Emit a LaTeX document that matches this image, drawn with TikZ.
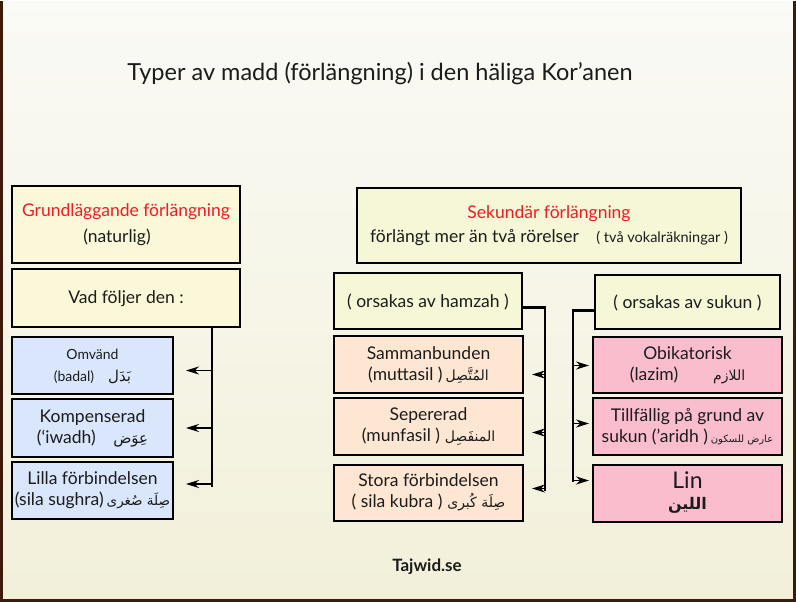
\documentclass[tikz,border=0pt]{standalone}
\usepackage{fontspec}
\setmainfont{Lato}
\newfontfamily\arabicfont[Script=Arabic]{DejaVu Sans}
\TeXXeTstate=1
\usetikzlibrary{arrows.meta}
\newcommand{\arabtxt}[1]{{\arabicfont\beginR #1\endR}}
\definecolor{pagetop}{HTML}{FAFAF6}
\definecolor{pagebot}{HTML}{F2F0D9}
\definecolor{pageedge}{HTML}{3E1A0A}
\definecolor{boxyellow}{HTML}{FBF8D9}
\definecolor{boxlime}{HTML}{F6F7D6}
\definecolor{boxblue}{HTML}{D9E6FB}
\definecolor{boxpeach}{HTML}{FDE7D3}
\definecolor{boxpink}{HTML}{F9BDCE}
\definecolor{titlered}{HTML}{EE1C25}
\definecolor{inktext}{HTML}{1C1C1C}

\begin{document}
\begin{tikzpicture}[x=1pt,y=-1pt,
    card/.style={draw=black, line width=2pt, align=center, inner sep=0pt,
      text=inktext, font=\fontsize{17.5}{21}\selectfont},
    bracket/.style={line width=2.6pt},
    arr/.style={line width=1.5pt, -{Stealth[length=13pt,width=8pt]}}]
    % page
    \shade[top color=pagetop, bottom color=pagebot] (0,0) rectangle (796,600);
    \draw[pageedge, line width=3pt] (1.5,0) -- (1.5,598.5) -- (794.5,598.5) -- (794.5,0);
    \useasboundingbox (0,0) rectangle (796,600);
    \node[text=inktext, font=\fontsize{23.5}{26}\selectfont] (title) at (380,72) {Typer av madd (förlängning) i den häliga Kor'anen};
    \node[text=inktext, font=\fontsize{17}{20}\selectfont\bfseries] (site) at (427,565) {Tajwid.se};

    % left column
    \node[card, fill=boxyellow, minimum width=228pt, minimum height=77pt] (grund) at (126,223.5)
      {\textcolor{titlered}{Grundläggande förlängning}\\[5pt]\hspace*{-18pt}(naturlig)};
    \node[card, fill=boxyellow, minimum width=228pt, minimum height=58pt] (vad) at (126,297)
      {Vad följer den :};
    \node[card, fill=boxblue, minimum width=161pt, minimum height=57pt, font=\fontsize{14}{22}\selectfont] (omv) at (92.5,364.5)
      {Omvänd\\(badal)\quad{\fontsize{15}{18}\selectfont\arabtxt{بَدَل}}};
    \node[card, fill=boxblue, minimum width=161pt, minimum height=57pt] (komp) at (92.5,426.5)
      {Kompenserad\\(‘iwadh)\quad{\fontsize{15}{18}\selectfont\arabtxt{عِوَض}}};
    \node[card, fill=boxblue, minimum width=161pt, minimum height=57pt] (lilla) at (92.5,488.5)
      {Lilla förbindelsen\\(sila sughra)\,{\fontsize{13.5}{16}\selectfont\arabtxt{صِلَة صُغرى}}};

    % right part
    \node[card, fill=boxlime, minimum width=384pt, minimum height=75pt] (sek) at (549,224.5)
      {\textcolor{titlered}{Sekundär förlängning}\\[3pt]förlängt mer än två rörelser\quad{\fontsize{14.5}{17}\selectfont ( två vokalräkningar )}};
    \node[card, fill=boxlime, minimum width=188pt, minimum height=56pt] (hamzah) at (428,300)
      {( orsakas av hamzah )};
    \node[card, fill=boxlime, minimum width=185pt, minimum height=54pt] (sukun) at (687.5,301)
      {( orsakas av sukun )};
    \node[card, fill=boxpeach, minimum width=189pt, minimum height=57pt] (samm) at (428.5,363.5)
      {Sammanbunden\\(muttasil )\,{\fontsize{14}{16}\selectfont\arabtxt{المُتَّصِل}}};
    \node[card, fill=boxpeach, minimum width=189pt, minimum height=56pt] (sep) at (428.5,425)
      {Sepererad\\(munfasil )\;{\fontsize{14}{16}\selectfont\arabtxt{المنفَصِل}}};
    \node[card, fill=boxpeach, minimum width=189pt, minimum height=56pt] (stora) at (428.5,491)
      {Stora förbindelsen\\( sila kubra )\;{\fontsize{14}{16}\selectfont\arabtxt{صِلَة كُبرى}}};
    \node[card, fill=boxpink, minimum width=189pt, minimum height=56pt] (obik) at (687.5,364)
      {Obikatorisk\\(lazim)\qquad{\fontsize{14}{16}\selectfont\arabtxt{اللازم}}};
    \node[card, fill=boxpink, minimum width=189pt, minimum height=56pt] (till) at (687.5,425)
      {Tillfällig på grund av\\sukun (’aridh )\,{\fontsize{10}{12}\selectfont\arabtxt{عارض للسكون}}};
    \node[card, fill=boxpink, minimum width=189pt, minimum height=57pt] (lin) at (687.5,491.5)
      {{\fontsize{23}{24}\selectfont Lin}\\{\fontsize{16}{18}\selectfont\bfseries\arabtxt{اللين}}};

    % brackets and arrows
    \coordinate (lb) at (212,485);
    \coordinate (mb) at (545,489);
    \coordinate (rb) at (573,480);
    \draw[bracket] (vad.south -| lb) -- (lb);
    \draw[arr, shorten >=12pt] ([yshift=-4.5pt]omv.east -| lb) -- ([yshift=-4.5pt]omv.east);
    \draw[arr, shorten >=12pt] (komp.east -| lb) -- (komp.east);
    \draw[arr, shorten >=12pt] ([yshift=6pt]lilla.east -| lb) -- ([yshift=6pt]lilla.east);

    \draw[bracket, line width=2.2pt] ([yshift=-6pt]hamzah.east) -| (mb);
    \draw[arr, shorten >=8pt] ([yshift=-9.5pt]samm.east -| mb) -- ([yshift=-9.5pt]samm.east);
    \draw[arr, shorten >=8pt] ([yshift=-6pt]sep.east -| mb) -- ([yshift=-6pt]sep.east);
    \draw[arr, shorten >=8pt] ([yshift=4pt]stora.east -| mb) -- ([yshift=4pt]stora.east);

    \draw[bracket, line width=2.2pt] ([yshift=-8pt]sukun.west) -| (rb);
    \draw[arr, shorten >=3pt] (obik.west -| rb) -- (obik.west);
    \draw[arr, shorten >=3pt] ([yshift=3pt]till.west -| rb) -- ([yshift=3pt]till.west);
    \draw[arr, shorten >=3pt] ([yshift=12.5pt]lin.west -| rb) -- ([yshift=12.5pt]lin.west);
\end{tikzpicture}
\end{document}
